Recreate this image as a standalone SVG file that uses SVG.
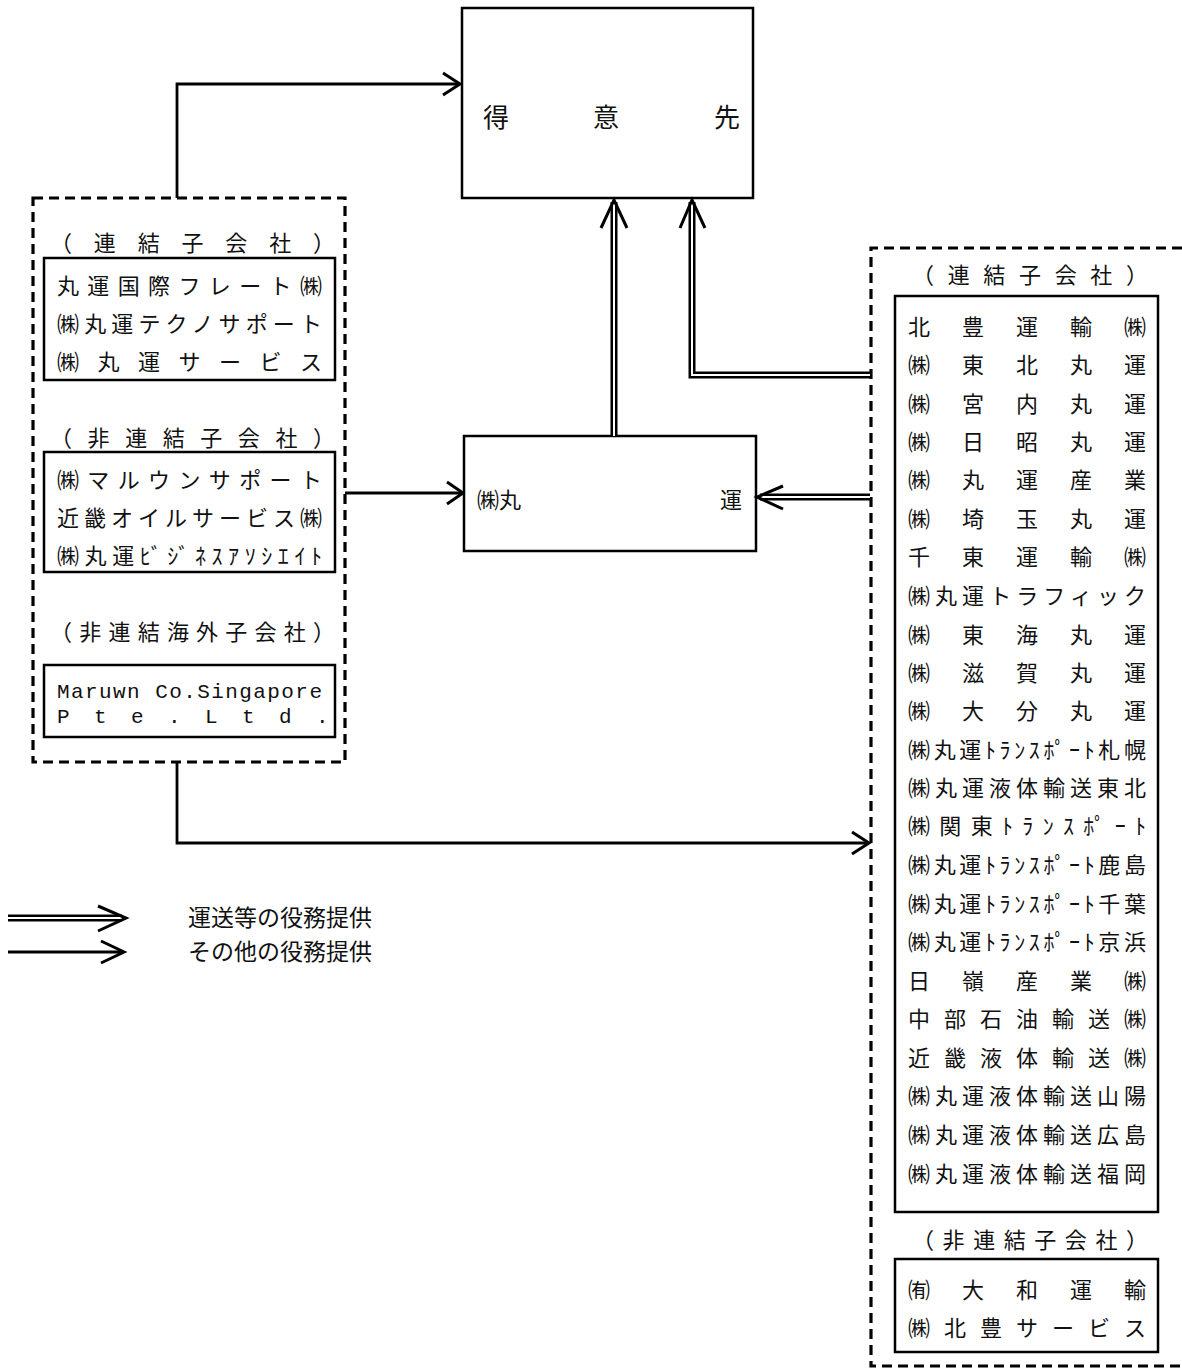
<svg xmlns="http://www.w3.org/2000/svg" width="1182" height="1371" viewBox="0 0 1182 1371">
<style>
.box{fill:none;stroke:#000;stroke-width:2.5}
.dash{fill:none;stroke:#000;stroke-width:3.2;stroke-dasharray:10 6}
.ln{fill:none;stroke:#000;stroke-width:2.8}
.dbo{fill:none;stroke:#000;stroke-width:7}
.dbi{fill:none;stroke:#fff;stroke-width:2}
.hd{fill:none;stroke:#000;stroke-width:3;stroke-linejoin:miter}
text{font-family:"Noto Sans CJK JP","Noto Sans",sans-serif;fill:#111}
.t21{font-size:22px}
.t22{font-size:22px}
.mono{font-family:"Liberation Mono","DejaVu Sans Mono",monospace;font-size:21px}
</style>
<rect width="1182" height="1371" fill="#fff"/>

<g id="customer">
<rect class="box" x="462" y="8" width="291" height="190"/>
<text x="483" y="127" style="font-size:26px">得</text>
<text x="593" y="127" style="font-size:26px">意</text>
<text x="714" y="127" style="font-size:26px">先</text>
</g>

<g id="maruwn">
<rect class="box" x="464" y="436" width="292" height="115"/>
<text x="477" y="508" style="font-size:22px">㈱丸</text>
<text x="720" y="508" style="font-size:22px">運</text>
</g>

<g id="left-group">
<rect class="dash" x="33" y="198" width="312" height="564"/>
<text class="t21" x="50" y="251" textLength="285" lengthAdjust="spacing">（連結子会社）</text>
<rect class="box" x="44" y="258" width="291" height="122"/>
<text class="t21" x="57" y="294" textLength="265" lengthAdjust="spacing">丸運国際フレート㈱</text>
<text class="t21" x="57" y="332" textLength="265" lengthAdjust="spacing">㈱丸運テクノサポート</text>
<text class="t21" x="57" y="370" textLength="265" lengthAdjust="spacing">㈱丸運サービス</text>
<text class="t21" x="50" y="446" textLength="285" lengthAdjust="spacing">（非連結子会社）</text>
<rect class="box" x="44" y="452" width="291" height="120"/>
<text class="t21" x="57" y="488" textLength="265" lengthAdjust="spacing">㈱マルウンサポート</text>
<text class="t21" x="57" y="526" textLength="265" lengthAdjust="spacing">近畿オイルサービス㈱</text>
<text class="t21" x="57" y="564" textLength="265" lengthAdjust="spacing">㈱丸運ﾋﾞｼﾞﾈｽｱｿｼｴｲﾄ</text>
<text class="t21" x="50" y="640" textLength="285" lengthAdjust="spacing">（非連結海外子会社）</text>
<rect class="box" x="44" y="665" width="291" height="72"/>
<text class="mono" x="57" y="698" textLength="265" lengthAdjust="spacing">Maruwn Co.Singapore</text>
<text class="mono" x="57 94 131 168 205 242 279 316" y="723">Pte.Ltd.</text>
</g>

<g id="right-group">
<path class="dash" d="M1182 248 H871 V1366 H1182"/>
<text class="t22" x="912" y="283" textLength="236" lengthAdjust="spacing">（連結子会社）</text>
<rect class="box" x="895" y="296" width="263" height="916"/>
<g class="t22">
<text x="908" y="335" textLength="238" lengthAdjust="spacing">北豊運輸㈱</text>
<text x="908" y="373" textLength="238" lengthAdjust="spacing">㈱東北丸運</text>
<text x="908" y="412" textLength="238" lengthAdjust="spacing">㈱宮内丸運</text>
<text x="908" y="450" textLength="238" lengthAdjust="spacing">㈱日昭丸運</text>
<text x="908" y="488" textLength="238" lengthAdjust="spacing">㈱丸運産業</text>
<text x="908" y="527" textLength="238" lengthAdjust="spacing">㈱埼玉丸運</text>
<text x="908" y="565" textLength="238" lengthAdjust="spacing">千東運輸㈱</text>
<text x="908" y="604" textLength="238" lengthAdjust="spacing">㈱丸運トラフィック</text>
<text x="908" y="643" textLength="238" lengthAdjust="spacing">㈱東海丸運</text>
<text x="908" y="681" textLength="238" lengthAdjust="spacing">㈱滋賀丸運</text>
<text x="908" y="719" textLength="238" lengthAdjust="spacing">㈱大分丸運</text>
<text x="908" y="758" textLength="238" lengthAdjust="spacing">㈱丸運ﾄﾗﾝｽﾎﾟｰﾄ札幌</text>
<text x="908" y="796" textLength="238" lengthAdjust="spacing">㈱丸運液体輸送東北</text>
<text x="908" y="834" textLength="238" lengthAdjust="spacing">㈱関東ﾄﾗﾝｽﾎﾟｰﾄ</text>
<text x="908" y="873" textLength="238" lengthAdjust="spacing">㈱丸運ﾄﾗﾝｽﾎﾟｰﾄ鹿島</text>
<text x="908" y="912" textLength="238" lengthAdjust="spacing">㈱丸運ﾄﾗﾝｽﾎﾟｰﾄ千葉</text>
<text x="908" y="950" textLength="238" lengthAdjust="spacing">㈱丸運ﾄﾗﾝｽﾎﾟｰﾄ京浜</text>
<text x="908" y="989" textLength="238" lengthAdjust="spacing">日嶺産業㈱</text>
<text x="908" y="1027" textLength="238" lengthAdjust="spacing">中部石油輸送㈱</text>
<text x="908" y="1066" textLength="238" lengthAdjust="spacing">近畿液体輸送㈱</text>
<text x="908" y="1104" textLength="238" lengthAdjust="spacing">㈱丸運液体輸送山陽</text>
<text x="908" y="1143" textLength="238" lengthAdjust="spacing">㈱丸運液体輸送広島</text>
<text x="908" y="1182" textLength="238" lengthAdjust="spacing">㈱丸運液体輸送福岡</text>
</g>
<text class="t22" x="912" y="1248" textLength="236" lengthAdjust="spacing">（非連結子会社）</text>
<rect class="box" x="895" y="1259" width="263" height="93"/>
<text class="t22" x="908" y="1298" textLength="238" lengthAdjust="spacing">㈲大和運輸</text>
<text class="t22" x="908" y="1336" textLength="238" lengthAdjust="spacing">㈱北豊サービス</text>
</g>

<g id="connectors">
<path class="ln" d="M177 198 V84 H459"/>
<path class="hd" d="M443 73 L460 84 L443 95"/>
<path class="ln" d="M345 493 H462"/>
<path class="hd" d="M447 482 L463 493 L447 504"/>
<path class="ln" d="M177 762 V843 H868"/>
<path class="hd" d="M852 832 L869 843 L852 854"/>
<path class="dbo" d="M614 436 V202"/>
<path class="dbi" d="M614 436 V202"/>
<path class="hd" d="M601 228 L614 200 L627 228"/>
<path class="dbo" d="M870 375 H692 V202"/>
<path class="dbi" d="M870 375 H692 V202"/>
<path class="hd" d="M680 228 L692 200 L705 228"/>
<path class="dbo" d="M870 497 H760"/>
<path class="dbi" d="M870 497 H760"/>
<path class="hd" d="M783 486 L757 497 L783 509"/>
</g>

<g id="legend">
<path class="dbo" d="M8 918 H122"/>
<path class="dbi" d="M8 918 H122"/>
<path class="hd" d="M98 906 L126 918 L98 931"/>
<path class="ln" d="M8 952 H122"/>
<path class="hd" d="M101 941 L124 952 L101 963"/>
<text x="188" y="926" style="font-size:23px">運送等の役務提供</text>
<text x="188" y="960" style="font-size:23px">その他の役務提供</text>
</g>
</svg>
